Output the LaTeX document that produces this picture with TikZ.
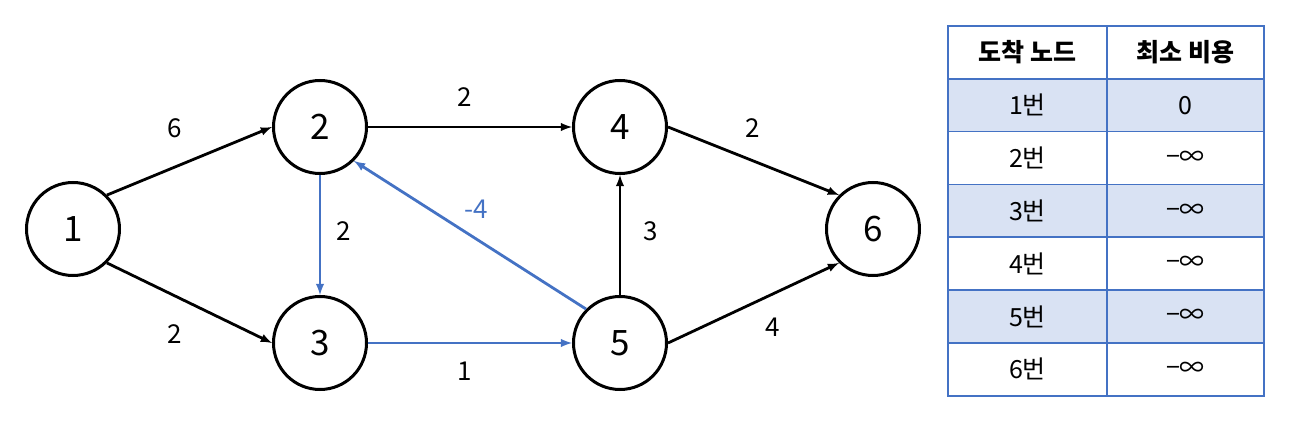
\documentclass[tikz,border=0pt]{standalone}
\usepackage{fontspec}
\setmainfont{Noto Sans CJK KR}
\usetikzlibrary{arrows}
\definecolor{pathblue}{HTML}{4472C4}
\definecolor{rowblue}{HTML}{D9E2F3}
\tikzset{
  vertex/.style={circle, draw=black, line width=3pt, minimum size=93pt, inner sep=0pt, font=\fontsize{35}{35}\selectfont},
  edge/.style={black, line width=2.8pt, ->, >=latex},
  pathedge/.style={edge, draw=pathblue},
  weight/.style={font=\fontsize{26}{26}\selectfont},
  cell/.style={draw=pathblue, line width=1.6pt, minimum height=52.8pt, inner sep=0pt, font=\fontsize{25}{25}\selectfont},
  leftcell/.style={cell, minimum width=159pt},
  rightcell/.style={cell, minimum width=157pt}
}
\begin{document}
\begin{tikzpicture}[x=1pt, y=-1pt]
\useasboundingbox (0,0) rectangle (1291,430);
% vertices
\node [vertex] (n1) at (73,229) {1};
\node [vertex] (n2) at (320,127) {2};
\node [vertex] (n3) at (320,343) {3};
\node [vertex] (n4) at (620,127) {4};
\node [vertex] (n5) at (620,343) {5};
\node [vertex] (n6) at (873,229) {6};

% edges
\draw [edge] (n1.45) -- (n2.west);
\draw [edge] (n1.-45) -- (n3.west);
\draw [edge] (n2.east) -- (n4.west);
\draw [edge] (n4.east) -- (n6.135);
\draw [edge] (n5.north) -- (n4.south);
\draw [edge] (n5.east) -- (n6.-135);
\draw [pathedge] (n2.south) -- (n3.north);
\draw [pathedge] (n3.east) -- (n5.west);
\draw [pathedge] (n5.135) -- (n2.-45);

% weights
\node [weight] (w12) at (175,128) {6};
\node [weight] (w13) at (175,334) {2};
\node [weight] (w24) at (465,97) {2};
\node [weight] (w46) at (753,128) {2};
\node [weight] (w23) at (344,231) {2};
\node [weight, pathblue] (w52) at (476,209) {-4};
\node [weight] (w54) at (651,231) {3};
\node [weight] (w35) at (465,371) {1};
\node [weight] (w56) at (773,327) {4};

% table
\node [leftcell, font=\fontsize{25}{25}\selectfont\bfseries] (head1) at (1027.5,52.5) {도착 노드};
\node [rightcell, font=\fontsize{25}{25}\selectfont\bfseries] (head2) at (1185.5,52.5) {최소 비용};
\foreach \row/\clr/\val in {1/rowblue/0, 2/white/−∞, 3/rowblue/−∞, 4/white/−∞, 5/rowblue/−∞, 6/white/−∞}
{
  \node [leftcell, fill=\clr] (dest\row) at (1027.5,52.5+52.8*\row) {\row{}번};
  \node [rightcell, fill=\clr] (cost\row) at (1185.5,52.5+52.8*\row) {\val};
}
\end{tikzpicture}
\end{document}
